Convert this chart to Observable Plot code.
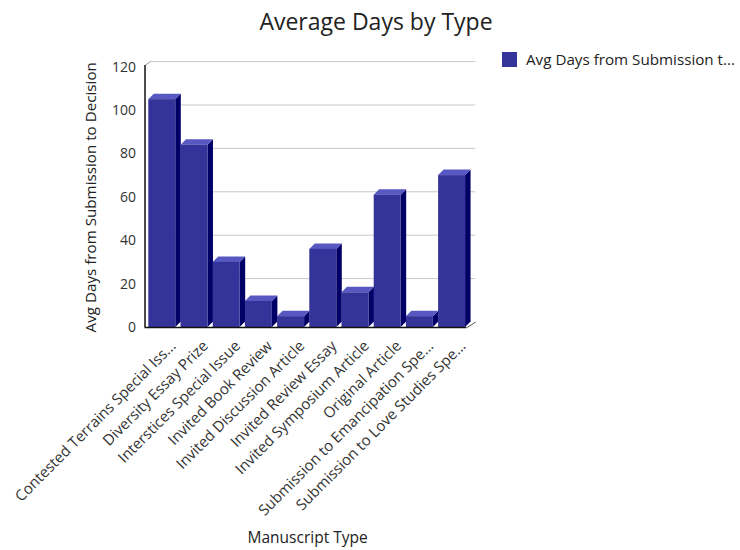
<!DOCTYPE html>
<html>
<head>
<meta charset="utf-8">
<script src="https://cdn.jsdelivr.net/npm/d3@7"></script>
<script src="https://cdn.jsdelivr.net/npm/@observablehq/plot@0.6"></script>
<style>
  body { margin: 0; background: #fff; font-family: "Open Sans", sans-serif; }
  #wrap { position: relative; width: 740px; height: 550px; overflow: hidden; }
  #title { position: absolute; left: 0; width: 740px; top: 5px; text-align: center; font-size: 23px; color: #222; padding-left: 12px; box-sizing: border-box; }
  #legend { position: absolute; left: 502px; top: 49px; font-size: 15.2px; color: #222; display: flex; align-items: center; white-space: nowrap; }
  #legend span.sw { display: inline-block; width: 15px; height: 15px; background: #333399; margin-right: 9px; }
  #chart { position: absolute; left: 0; top: 0; }
</style>
</head>
<body>
<div id="wrap">
  <div id="chart"></div>
  <div id="title">Average Days by Type</div>
  <div id="legend"><span class="sw"></span><span>Avg Days from Submission t...</span></div>
</div>
<script>
const categories = [
  "Contested Terrains Special Iss...",
  "Diversity Essay Prize",
  "Interstices Special Issue",
  "Invited Book Review",
  "Invited Discussion Article",
  "Invited Review Essay",
  "Invited Symposium Article",
  "Original Article",
  "Submission to Emancipation Spe...",
  "Submission to Love Studies Spe..."
];
const avgDays = [105, 84, 30, 12, 5, 36, 16, 61, 5, 70];
const yTicks = [0, 20, 40, 60, 80, 100, 120];
const yLabel = "Avg Days from Submission to Decision";
const xLabel = "Manuscript Type";

// geometry (layout, not data)
const W = 740, H = 550, mL = 144.5, mR = 273.5, mT = 66.6, mB = 223;
const unitX = (W - mL - mR) / categories.length;
const unitY = (H - mT - mB) / 120;
const depthX = 5.5, depthY = 5.5;
const dX = depthX / unitX, dY = depthY / unitY;
const f0 = 0.118, f1 = 0.956;

const bars = categories.map((c, i) => ({ name: c, i, v: avgDays[i], x1: i + f0, x2: i + f1 }));
const sideFaces = bars.flatMap(b => [
  { z: b.i, x: b.x2, y1: 0, y2: b.v },
  { z: b.i, x: b.x2 + dX, y1: dY, y2: b.v + dY }
]);
const topFaces = bars.flatMap(b => [
  { z: b.i, x: b.x1, y1: b.v, y2: b.v },
  { z: b.i, x: b.x1 + dX, y1: b.v, y2: b.v + dY },
  { z: b.i, x: b.x2, y1: b.v, y2: b.v + dY },
  { z: b.i, x: b.x2 + dX, y1: b.v + dY, y2: b.v + dY }
]);

const n = categories.length;
const chart = Plot.plot({
  width: W, height: H,
  marginLeft: mL, marginRight: mR, marginTop: mT, marginBottom: mB,
  style: { fontFamily: "Open Sans, sans-serif", background: "transparent" },
  x: { domain: [0, n], axis: null },
  y: { domain: [0, 120], axis: null },
  marks: [
    // back-wall gridlines
    Plot.ruleY(yTicks.filter(t => t > 0), { y: d => d + dY, x1: dX, x2: n + 1.6 * dX, stroke: "#c8c8c8", strokeWidth: 1 }),
    Plot.link([0], { x1: 0, y1: 120 + 0.3 * dY, x2: dX, y2: 120 + dY, stroke: "#999", strokeWidth: 1 }),
    // bars: side, top, front
    Plot.areaY(sideFaces, { x: "x", y1: "y1", y2: "y2", z: "z", fill: "#000066", curve: "linear" }),
    Plot.areaY(topFaces, { x: "x", y1: "y1", y2: "y2", z: "z", fill: "#5858c2", curve: "linear" }),
    Plot.rect(bars, { x1: "x1", x2: "x2", y1: 0, y2: "v", fill: "#333399" }),
    // axes lines
    Plot.ruleX([0], { y1: 0, y2: 120 + 0.3 * dY, stroke: "#111", strokeWidth: 1.5 }),
    Plot.ruleY([0], { x1: 0, x2: n, stroke: "#111", strokeWidth: 1.5 }),
    Plot.link([0], { x1: n, y1: 0, x2: n + 1.6 * dX, y2: dY, stroke: "#555", strokeWidth: 1 }),
    // y tick labels
    Plot.text(yTicks, { x: 0, y: d => d, text: d => String(d), textAnchor: "end", dx: -9, fontSize: 14, fill: "#333" }),
    // y axis title
    Plot.text([yLabel], { x: 0, y: 60, text: d => d, rotate: -90, dx: -54, fontSize: 15.2, fill: "#222" }),
    // x tick labels
    Plot.text(bars, { x: b => b.i + (f0 + f1) / 2, y: 0, text: "name", rotate: -45, textAnchor: "end", dx: 11, dy: 16, fontSize: 15, fill: "#333" }),
    // x axis title
    Plot.text([xLabel], { x: 5.05, y: 0, text: d => d, dy: 211, fontSize: 15.5, fill: "#222" })
  ]
});
document.getElementById("chart").appendChild(chart);
</script>
</body>
</html>
